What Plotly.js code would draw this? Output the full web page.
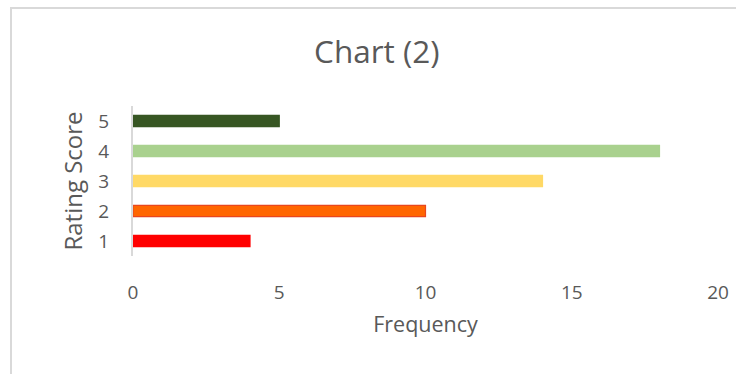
<!DOCTYPE html>
<html>
<head>
<meta charset="utf-8">
<script src="https://cdn.plot.ly/plotly-3.0.1.min.js"></script>
<style>
  html, body { margin: 0; padding: 0; background: #fff; }
  #wrap { position: relative; width: 736px; height: 374px; overflow: hidden; }
  #frame { position: absolute; left: 10px; top: 7px; width: 800px; height: 400px;
           border-top: 2px solid #d9d9d9; border-left: 2px solid #d9d9d9; box-sizing: border-box; }
  #chart { position: absolute; left: 0; top: 0; width: 736px; height: 374px; }
</style>
</head>
<body>
<div id="wrap">
  <div id="frame"></div>
  <div id="chart"></div>
</div>
<script>
const ratingScores = ["1", "2", "3", "4", "5"];
const frequencies = [4, 10, 14, 18, 5];
const barColors = ["#FF0000", "#FF6600", "#FFD966", "#A9D18E", "#375623"];
const barLineColors = ["#FF0000", "#E8461E", "#FFD966", "#A9D18E", "#375623"];
const xTicks = [0, 5, 10, 15, 20];

const FONT = "Open Sans, Noto Sans, sans-serif";
const GREY = "#595959";

const trace = {
  type: "bar",
  orientation: "h",
  x: frequencies,
  y: ratingScores,
  width: 0.37,
  marker: { color: barColors, line: { color: barLineColors, width: 1.2 } },
  hoverinfo: "skip"
};

const layout = {
  width: 736, height: 374,
  paper_bgcolor: "rgba(0,0,0,0)",
  plot_bgcolor: "rgba(0,0,0,0)",
  margin: { l: 133, r: 18, t: 106, b: 118, pad: 0 },
  showlegend: false,
  title: {
    text: "Chart (2)",
    font: { family: FONT, size: 31.5, color: GREY },
    x: 0.512, xref: "container", xanchor: "center",
    y: 0.86, yref: "container", yanchor: "middle"
  },
  xaxis: {
    range: [0, 20],
    tickvals: xTicks,
    ticktext: xTicks.map(String),
    showgrid: false, zeroline: false, showline: false,
    ticks: "outside", ticklen: 19, tickcolor: "rgba(0,0,0,0)",
    tickfont: { family: FONT, size: 19, color: GREY },
    title: { text: "Frequency", font: { family: FONT, size: 21.5, color: GREY }, standoff: 13 },
    fixedrange: true
  },
  yaxis: {
    type: "category",
    categoryorder: "array",
    categoryarray: ratingScores,
    range: [-0.5, 4.5],
    showgrid: false, zeroline: false,
    showline: true, linecolor: "#d9d9d9", linewidth: 2,
    ticks: "outside", ticklen: 18, tickcolor: "rgba(0,0,0,0)",
    tickfont: { family: FONT, size: 19, color: GREY },
    title: { text: "Rating Score", font: { family: FONT, size: 24, color: GREY }, standoff: 9 },
    fixedrange: true
  }
};

Plotly.newPlot("chart", [trace], layout, { displayModeBar: false, staticPlot: true });
</script>
</body>
</html>
